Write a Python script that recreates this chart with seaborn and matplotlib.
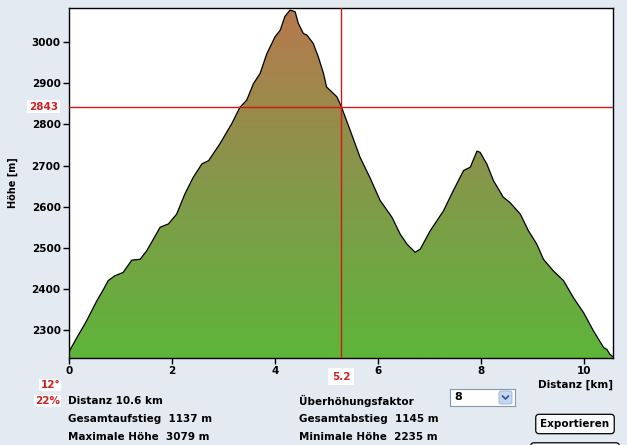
import numpy as np
import matplotlib
matplotlib.use("Agg")
import matplotlib.pyplot as plt
import seaborn as sns
from matplotlib.colors import LinearSegmentedColormap
from matplotlib.patches import FancyBboxPatch

# Höhenprofil
distanz_km = [0.00, 0.15, 0.34, 0.54, 0.67, 0.76, 0.89, 1.05, 1.22, 1.38, 1.51, 1.77, 1.93,
              2.09, 2.25, 2.41, 2.58, 2.71, 2.93, 3.16, 3.32, 3.45, 3.58, 3.71, 3.84, 4.00,
              4.10, 4.19, 4.29, 4.39, 4.45, 4.55, 4.62, 4.74, 4.84, 4.94, 5.00, 5.10, 5.20,
              5.29, 5.46, 5.65, 5.84, 6.04, 6.27, 6.43, 6.56, 6.72, 6.82, 7.01, 7.27, 7.46,
              7.66, 7.79, 7.92, 7.98, 8.11, 8.24, 8.43, 8.56, 8.76, 8.92, 9.08, 9.21, 9.40,
              9.60, 9.79, 9.99, 10.18, 10.38, 10.44, 10.50, 10.56]
hoehe_m = [2247, 2281, 2322, 2371, 2399, 2420, 2432, 2440, 2470, 2472, 2493, 2550, 2558,
           2582, 2631, 2671, 2704, 2712, 2753, 2802, 2842, 2859, 2899, 2924, 2972, 3013,
           3029, 3062, 3078, 3074, 3046, 3021, 3017, 2997, 2964, 2924, 2891, 2879, 2867,
           2842, 2785, 2720, 2671, 2615, 2574, 2533, 2509, 2489, 2497, 2541, 2590, 2639,
           2688, 2696, 2735, 2732, 2704, 2663, 2623, 2610, 2582, 2541, 2509, 2472, 2444,
           2420, 2379, 2342, 2298, 2257, 2253, 2241, 2235]

x_ticks = [0, 2, 4, 6, 8, 10]
y_ticks = [2300, 2400, 2500, 2600, 2700, 2800, 2900, 3000]
cursor_km = 5.28
cursor_km_label = "5.2"
cursor_hoehe = 2843

sns.set_style("white")
plt.rcParams["font.family"] = ["DejaVu Sans"]
plt.rcParams["text.color"] = "black"
plt.rcParams["axes.labelcolor"] = "black"
plt.rcParams["xtick.color"] = "black"
plt.rcParams["ytick.color"] = "black"

bg = "#E3EAF2"
rot = "#D41515"
fig = plt.figure(figsize=(6.27, 4.45), dpi=100, facecolor=bg)
ax = fig.add_axes([69 / 627, 87 / 445, 544 / 627, 350 / 445])
ax.set_facecolor("white")

y0, y1 = 2232, 3083
ax.set_xlim(0, 10.56)
ax.set_ylim(y0, y1)

# Farbverlauf grün -> braun, auf das Profil beschnitten
cmap = LinearSegmentedColormap.from_list(
    "profil", [(0.0, "#5EB53A"), (0.5, "#84984A"), (1.0, "#B8784C")])
grad = np.linspace(0, 1, 256).reshape(-1, 1)
img = ax.imshow(grad, extent=[0, 10.56, y0, y1], origin="lower",
                aspect="auto", cmap=cmap, zorder=1)
poly = ax.fill_between(distanz_km, hoehe_m, y0, color="none", lw=0)
clip = poly.get_paths()[0]
img.set_clip_path(clip, transform=ax.transData)

sns.lineplot(x=distanz_km, y=hoehe_m, color="black", lw=0.9, ax=ax, zorder=3)

# Fadenkreuz
ax.axvline(cursor_km, color=rot, lw=1.0, zorder=4)
ax.axhline(cursor_hoehe, color=rot, lw=1.0, zorder=4)

ax.set_xticks(x_ticks)
ax.set_yticks(y_ticks)
ax.set_xticklabels([str(t) for t in x_ticks], fontsize=7.5, fontweight="bold")
ax.set_yticklabels([str(t) for t in y_ticks], fontsize=7.5, fontweight="bold")
ax.tick_params(direction="out", length=4, width=1, color="black", pad=2,
               bottom=True, left=True, labelcolor="black")
ax.set_ylabel("Höhe [m]", fontsize=7, fontweight="bold", labelpad=10, color="black")
ax.set_xlabel("")
for s in ax.spines.values():
    s.set_color("black")
    s.set_linewidth(1)

ax.text(-0.02, cursor_hoehe, str(cursor_hoehe), transform=ax.get_yaxis_transform(),
        ha="right", va="center", color="#CC2222", fontsize=7.5, fontweight="bold",
        bbox=dict(fc="white", ec="none", pad=1.2))
ax.text(cursor_km, -0.053, cursor_km_label, transform=ax.get_xaxis_transform(),
        ha="center", va="center", color="#CC2222", fontsize=7.5, fontweight="bold",
        bbox=dict(fc="white", ec="none", boxstyle="square,pad=0.35"))

fs = 7.5
fig.text(575 / 627, 1 - 385 / 445, "Distanz [km]", ha="center", va="center",
         fontsize=fs, fontweight="bold")
fig.text(60 / 627, 1 - 385 / 445, "12°", ha="right", va="center", color="#CC2222",
         fontsize=fs, fontweight="bold", bbox=dict(fc="white", ec="none", pad=0.8))
fig.text(60 / 627, 1 - 401 / 445, "22%", ha="right", va="center", color="#CC2222",
         fontsize=fs, fontweight="bold", bbox=dict(fc="white", ec="none", pad=0.8))

links = ["Distanz 10.6 km", "Gesamtaufstieg  1137 m", "Maximale Höhe  3079 m"]
rechts = ["Überhöhungsfaktor", "Gesamtabstieg  1145 m", "Minimale Höhe  2235 m"]
for i, (l, r) in enumerate(zip(links, rechts)):
    yy = 1 - (401 + i * 18) / 445
    fig.text(68 / 627, yy, l, ha="left", va="center", fontsize=fs, fontweight="bold")
    fig.text(299 / 627, yy, r, ha="left", va="center", fontsize=fs, fontweight="bold")

# Auswahlfeld
combo = fig.add_axes([450 / 627, 1 - 406 / 445, 65 / 627, 17 / 445])
combo.set_xticks([])
combo.set_yticks([])
combo.set_facecolor("white")
for s in combo.spines.values():
    s.set_color("#8899AA")
    s.set_linewidth(0.8)
combo.set_xlim(0, 65)
combo.set_ylim(0, 17)
combo.text(4, 8.5, "8", ha="left", va="center", fontsize=8, fontweight="bold")
combo.add_patch(FancyBboxPatch((49, 2), 13, 13, boxstyle="round,pad=0,rounding_size=2",
                               fc="#C4D8F2", ec="#9AB0CC", lw=0.6))
combo.plot([52.5, 55.5, 58.5], [10, 7, 10], color="#3A5A9A", lw=1.3)

# Buttons
fig.text(575 / 627, 1 - 424 / 445, "Exportieren", ha="center", va="center",
         fontsize=fs, fontweight="bold",
         bbox=dict(boxstyle="round,pad=0.45,rounding_size=0.3", fc="#F7F9FB",
                   ec="black", lw=0.9))
fig.patches.append(FancyBboxPatch((531 / 627, -0.02), 88 / 627, 0.025,
                                  boxstyle="round,pad=0,rounding_size=0.005",
                                  fc="#F7F9FB", ec="black", lw=0.9,
                                  transform=fig.transFigure, figure=fig))

fig.savefig("out.png", dpi=100, facecolor=bg)
